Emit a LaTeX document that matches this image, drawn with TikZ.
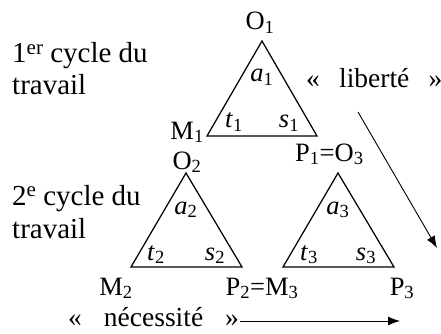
\documentclass[tikz,border=0pt]{standalone}
\usepackage{fontspec}
\setmainfont{Liberation Serif}
\usetikzlibrary{arrows.meta,positioning}
\newcommand{\vx}[2]{#1\textsubscript{#2}}
\newcommand{\ph}[2]{\textit{#1}\textsubscript{#2}}
\newcommand{\sups}[1]{\raisebox{0.3em}{\fontsize{21}{21}\selectfont #1}}
\tikzset{
  txt/.style={inner sep=0pt, font=\fontsize{26.5}{32}\selectfont},
  head/.style={inner sep=0pt, font=\fontsize{29}{34}\selectfont},
  quot/.style={inner sep=0pt, font=\fontsize{27.5}{32}\selectfont},
  tri/.style={line width=1.25pt, line join=miter},
  flow/.style={line width=0.9pt, -{Latex[length=12pt,width=9pt]}}
}

\begin{document}
\begin{tikzpicture}[x=1pt,y=-1pt]
  \useasboundingbox (0,0) rectangle (441,334);

  \coordinate (O1) at (262,41);
  \coordinate (M1) at (207,136);
  \coordinate (P1) at (317,136);
  \coordinate (O2) at (186,173);
  \coordinate (M2) at (131,267);
  \coordinate (P2) at (242,267);
  \coordinate (O3) at (338,173);
  \coordinate (M3) at (283,267);
  \coordinate (P3) at (394,267);
  \draw[tri] (O1) -- (M1) -- (P1) -- cycle;
  \draw[tri] (O2) -- (M2) -- (P2) -- cycle;
  \draw[tri] (O3) -- (M3) -- (P3) -- cycle;

  \node[head, anchor=base west] (cyc1) at (12,63) {1\sups{er} cycle du};
  \node[head, anchor=base west] (trav1) at (12,95) {travail};
  \node[head, anchor=base west] (cyc2) at (12,205) {2\sups{e} cycle du};
  \node[head, anchor=base west] (trav2) at (12,238) {travail};

  \node[txt, anchor=base] (o1lbl) at (260,30) {\vx{O}{1}};
  \node[txt, anchor=base east] (m1lbl) at (204,139) {\vx{M}{1}};
  \node[txt, anchor=base west] (p1lbl) at (295,161) {\vx{P}{1}=\vx{O}{3}};
  \node[txt, anchor=base] (o2lbl) at (187,169) {\vx{O}{2}};
  \node[txt, anchor=base] (m2lbl) at (116,295) {\vx{M}{2}};
  \node[txt, anchor=base] (p2lbl) at (262,295) {\vx{P}{2}=\vx{M}{3}};
  \node[txt, anchor=base] (p3lbl) at (402,295) {\vx{P}{3}};

  \node[txt, anchor=base] (a1) at (262,82) {\ph{a}{1}};
  \node[txt, anchor=base] (t1) at (234,128) {\ph{t}{1}};
  \node[txt, anchor=base] (s1) at (289,128) {\ph{s}{1}};
  \node[txt, anchor=base] (a2) at (186,214) {\ph{a}{2}};
  \node[txt, anchor=base] (t2) at (156,260) {\ph{t}{2}};
  \node[txt, anchor=base] (s2) at (215,260) {\ph{s}{2}};
  \node[txt, anchor=base] (a3) at (338,214) {\ph{a}{3}};
  \node[txt, anchor=base] (t3) at (309,260) {\ph{t}{3}};
  \node[txt, anchor=base] (s3) at (366,260) {\ph{s}{3}};

  \node[quot, anchor=base west] (lib) at (306,88) {«\hspace{0.7em}liberté\hspace{0.7em}»};
  \node[quot, anchor=base west] (nec) at (68,326) {«\hspace{0.8em}nécessité\hspace{0.8em}»};

  \coordinate (libstart) at (358,112);
  \coordinate (libend) at (437,248);
  \draw[flow] (libstart) -- (libend);
  \coordinate (necstart) at (240,321);
  \coordinate (necend) at (400,321);
  \draw[flow] (necstart) -- (necend);
\end{tikzpicture}
\end{document}
